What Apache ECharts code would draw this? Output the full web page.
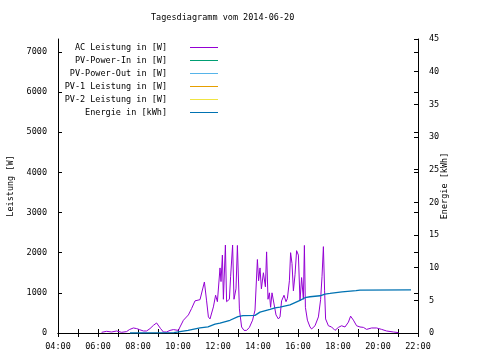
<!DOCTYPE html>
<html><head><meta charset="utf-8">
<script src="https://cdn.jsdelivr.net/npm/echarts@6/dist/echarts.min.js"></script>
<style>html,body{margin:0;padding:0;background:#fff}#c{width:480px;height:360px}</style>
</head><body><div id="c"></div>
<script>
var titleText = 'Tagesdiagramm vom 2014-06-20';
var seriesNames = ['AC Leistung in [W]','PV-Power-In in [W]','PV-Power-Out in [W]','PV-1 Leistung in [W]','PV-2 Leistung in [W]','Energie in [kWh]'];
var seriesColors = ['#9400D3','#009E73','#56B4E9','#E69F00','#F0E442','#0072B2'];
var acHours = [6.18,6.43,6.68,6.93,7.18,7.43,7.57,7.77,7.93,8.07,8.27,8.43,8.6,8.77,8.93,9.03,9.13,9.27,9.43,9.6,9.77,10.02,10.1,10.27,10.52,10.68,10.85,11.1,11.2,11.32,11.43,11.52,11.6,11.77,11.88,11.97,12.1,12.15,12.22,12.27,12.37,12.43,12.57,12.63,12.73,12.8,12.9,12.97,13.07,13.18,13.3,13.43,13.57,13.73,13.85,13.97,14.03,14.1,14.17,14.27,14.37,14.43,14.5,14.57,14.63,14.7,14.8,14.9,15.02,15.1,15.18,15.3,15.4,15.47,15.57,15.63,15.7,15.77,15.85,15.93,16.02,16.1,16.18,16.27,16.32,16.37,16.47,16.6,16.68,16.85,17.02,17.13,17.2,17.27,17.33,17.38,17.52,17.68,17.85,18.02,18.18,18.35,18.52,18.63,18.77,18.93,19.1,19.27,19.43,19.68,19.93,20.18,20.43,20.77,21.02];
var acWatts = [17,42,25,50,17,35,85,125,110,85,50,50,110,190,250,215,110,25,25,65,85,65,150,317,450,610,800,830,820,1270,800,400,350,650,940,780,1620,1280,1940,840,2190,780,840,1400,2190,840,1100,2180,600,150,65,65,140,320,570,1830,1300,1620,1100,1500,1150,2020,840,1000,640,1000,1000,450,350,400,800,940,780,860,1300,2000,1730,1050,1450,2050,1940,800,1380,840,2180,640,320,150,100,180,400,830,1400,2150,1050,350,180,150,65,140,180,150,270,420,320,180,150,140,90,125,125,90,50,25,10];
var energyHours = [7.6,9.8,10.1,10.5,11.1,11.5,11.85,12.1,12.6,13.0,13.25,13.85,14.1,14.6,14.85,15.1,15.6,16.1,16.35,16.6,17.1,17.35,17.6,18.2,18.9,19.1,21.65];
var energyKwh = [0,0.05,0.2,0.4,0.8,0.95,1.35,1.5,1.95,2.5,2.65,2.7,3.2,3.6,3.85,3.95,4.3,5.0,5.4,5.55,5.7,5.95,6.05,6.3,6.5,6.57,6.6];
var xTicks = [4,22,1];
var yLeft = [0,7320,1000];
var yRight = [0,45,5];

function pairs(a,b){return a.map(function(v,i){return [v,b[i]];});}
var FONT = 'DejaVu Sans Mono';
var fs = 8.5;
function pad(n){return (n<10?'0':'')+n;}
var axisLineStyle = {color:'#000',width:1};
var chart = echarts.init(document.getElementById('c'));
var emptySeries = [1,2,3,4].map(function(i){
  return {name:seriesNames[i],type:'line',data:[],showSymbol:false,color:seriesColors[i],lineStyle:{width:1}};
});
chart.setOption({
  animation:false,
  backgroundColor:'#fff',
  title:{text:titleText,left:151,top:13,padding:0,textStyle:{fontFamily:FONT,fontSize:fs,fontWeight:'normal',color:'#000'}},
  legend:{orient:'vertical',align:'right',right:262,top:41,padding:0,itemGap:0,itemWidth:28,itemHeight:1,icon:'rect',selectedMode:false,
    textStyle:{fontFamily:FONT,fontSize:fs,color:'#000',lineHeight:9,padding:[0,18,4,0]},
    data:seriesNames},
  grid:{left:58,right:62,top:39,bottom:27,show:false,containLabel:false,outerBoundsMode:'none'},
  xAxis:[{type:'value',min:xTicks[0],max:xTicks[1],interval:xTicks[2],position:'bottom',
    axisLine:{lineStyle:axisLineStyle},axisTick:{inside:true,length:4,lineStyle:{color:'#000'}},splitLine:{show:false},
    axisLabel:{margin:9,fontFamily:FONT,fontSize:fs,color:'#000',formatter:function(v){return v%2===0?pad(v)+':00':'';}}},
   {type:'value',min:xTicks[0],max:xTicks[1],interval:xTicks[2],position:'top',
    axisLine:{lineStyle:axisLineStyle},axisTick:{inside:true,length:4,lineStyle:{color:'#000'}},splitLine:{show:false},axisLabel:{show:false}}],
  yAxis:[{type:'value',min:yLeft[0],max:yLeft[1],interval:yLeft[2],position:'left',
    name:'Leistung [W]',nameLocation:'middle',nameGap:43,nameRotate:90,nameMoveOverlap:false,nameTextStyle:{fontFamily:FONT,fontSize:fs,color:'#000'},
    axisLine:{show:true,lineStyle:axisLineStyle},axisTick:{show:true,inside:true,length:4,lineStyle:{color:'#000'}},splitLine:{show:false},
    axisLabel:{margin:11,fontFamily:FONT,fontSize:fs,color:'#000',showMaxLabel:false,formatter:function(v){return String(v);}}},
   {type:'value',min:yRight[0],max:yRight[1],interval:yRight[2],position:'right',
    name:'Energie [kWh]',nameLocation:'middle',nameGap:22,nameRotate:90,nameMoveOverlap:false,nameTextStyle:{fontFamily:FONT,fontSize:fs,color:'#000'},
    axisLine:{show:true,lineStyle:axisLineStyle},axisTick:{show:true,inside:true,length:4,lineStyle:{color:'#000'}},splitLine:{show:false},
    axisLabel:{margin:11,fontFamily:FONT,fontSize:fs,color:'#000'}},
   {type:'value',min:yLeft[0],max:yLeft[1],interval:yLeft[2],position:'right',
    axisLine:{show:false},axisTick:{show:true,inside:true,length:4,lineStyle:{color:'#000'}},splitLine:{show:false},axisLabel:{show:false}}],
  series:[
    {name:seriesNames[0],type:'line',data:pairs(acHours,acWatts),showSymbol:false,color:seriesColors[0],lineStyle:{width:1},z:3}
  ].concat(emptySeries).concat([
    {name:seriesNames[5],type:'line',yAxisIndex:1,data:pairs(energyHours,energyKwh),showSymbol:false,color:seriesColors[5],lineStyle:{width:1.3},z:4}
  ])
});
</script></body></html>
